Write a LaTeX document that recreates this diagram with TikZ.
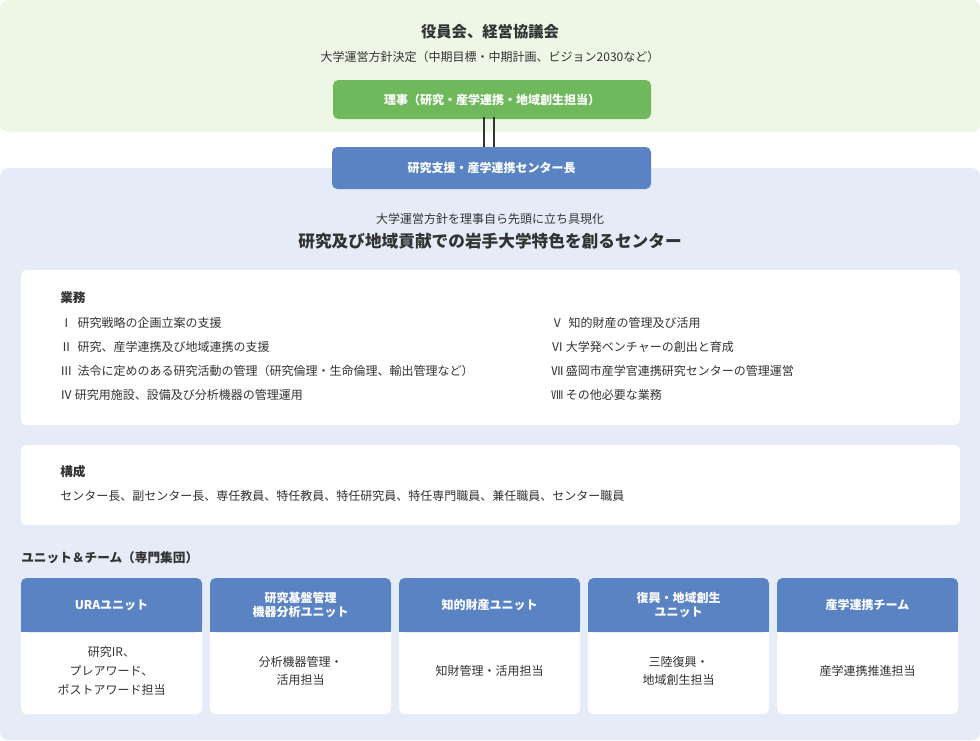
\documentclass[tikz,border=0pt]{standalone}
\usepackage{fontspec}
\setmainfont{Noto Sans CJK JP}
\newfontfamily\jpb{Noto Sans CJK JP Bold}
\definecolor{gbg}{HTML}{EEF6E6}
\definecolor{gbtn}{HTML}{6FB95C}
\definecolor{bbg}{HTML}{E5ECF7}
\definecolor{bbtn}{HTML}{5A83C3}
\definecolor{tx}{HTML}{333333}
\begin{document}
\begin{tikzpicture}[x=0.75pt,y=-0.75pt,
  t/.style={text=tx,font=\fontsize{9}{11}\selectfont,inner sep=0},
  tb/.style={text=tx,font=\fontsize{9.5}{11}\selectfont\bfseries,inner sep=0},
  btn/.style={rounded corners=4pt,text=white,font=\fontsize{9}{11}\selectfont\bfseries,align=center},
  wbox/.style={fill=white,rounded corners=4pt}]
\useasboundingbox (0,0) rectangle (980,740);
\fill[gbg,rounded corners=6pt] (0,0) rectangle (980,132);
\fill[bbg,rounded corners=6pt] (0,168) rectangle (980,740);
\node[tb,font=\fontsize{11.5}{13}\selectfont\bfseries] (t1) at (490,32) {役員会、経営協議会};
\node[t] (t2) at (490,57) {大学運営方針決定（中期目標・中期計画、ビジョン2030など）};
\fill[gbtn,rounded corners=4pt] (333,80) rectangle (651,119);
\node[btn] (g) at (492,99.5) {理事（研究・産学連携・地域創生担当）};
\draw[tx,line width=1.2pt] (484,117) -- (484,150) (494,117) -- (494,150);
\fill[bbtn,rounded corners=4pt] (332,147) rectangle (651,189);
\node[btn] (b) at (491.5,168) {研究支援・産学連携センター長};
\node[t] (s1) at (490,219) {大学運営方針を理事自ら先頭に立ち具現化};
\node[tb,font=\fontsize{12.5}{14}\selectfont\bfseries] (s2) at (490,241) {研究及び地域貢献での岩手大学特色を創るセンター};
\fill[wbox] (21,270) rectangle (960,425);
\node[tb,anchor=west] (gy) at (60,298) {業務};
\foreach \y/\s [count=\i] in {323/Ⅰ\ \ 研究戦略の企画立案の支援,347/Ⅱ\ \ 研究、産学連携及び地域連携の支援,371/Ⅲ\ \ 法令に定めのある研究活動の管理（研究倫理・生命倫理、輸出管理など）,395/Ⅳ\ 研究用施設、設備及び分析機器の管理運用}
  \node[t,anchor=west] (l\i) at (60,\y) {\s};
\foreach \y/\s [count=\i] in {323/Ⅴ\ \ 知的財産の管理及び活用,347/Ⅵ\ 大学発ベンチャーの創出と育成,371/Ⅶ\ 盛岡市産学官連携研究センターの管理運営,395/Ⅷ\ その他必要な業務}
  \node[t,anchor=west] (r\i) at (551,\y) {\s};
\fill[wbox] (21,445) rectangle (960,525);
\node[tb,anchor=west] (ks) at (60,472) {構成};
\node[t,anchor=west] (km) at (60,496) {センター長、副センター長、専任教員、特任教員、特任研究員、特任専門職員、兼任職員、センター職員};
\node[tb,anchor=west] (ut) at (21,558) {ユニット＆チーム（専門集団）};
\foreach \x/\h/\b [count=\i] in {21/URAユニット/研究IR、\\プレアワード、\\ポストアワード担当,
  210/研究基盤管理\\機器分析ユニット/分析機器管理・\\活用担当,
  399/知的財産ユニット/知財管理・活用担当,
  588/復興・地域創生\\ユニット/三陸復興・\\地域創生担当,
  777/産学連携チーム/産学連携推進担当}{
  \fill[white,rounded corners=4pt] (\x,578) rectangle (\x+181,714);
  \fill[bbtn,rounded corners=4pt] (\x,578) rectangle (\x+181,632);
  \fill[bbtn] (\x,620) rectangle (\x+181,632);
  \node[btn] (uh\i) at (\x+90.5,605) {\h};
  \node[t,align=center,font=\fontsize{9}{14}\selectfont] (ub\i) at (\x+90.5,671) {\b};
}
\end{tikzpicture}
\end{document}
